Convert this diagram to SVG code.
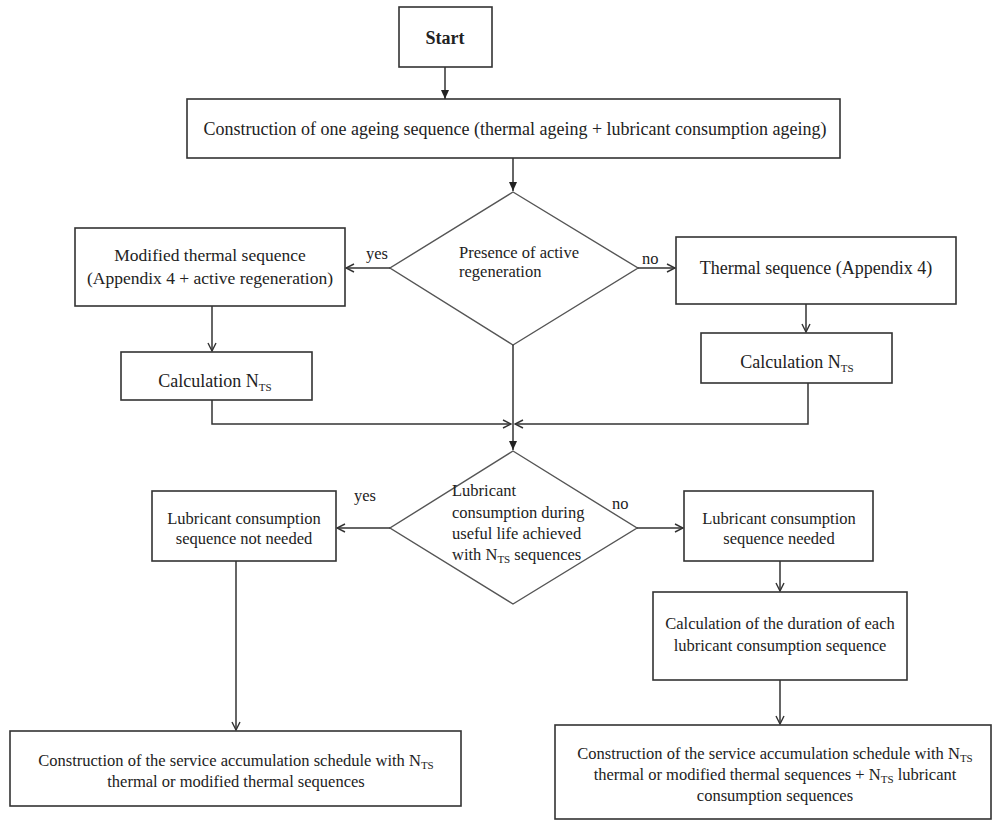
<svg xmlns="http://www.w3.org/2000/svg" width="992" height="821" viewBox="0 0 992 821">
<defs>
<marker id="ah" markerWidth="10" markerHeight="10" refX="9" refY="5" orient="auto" markerUnits="userSpaceOnUse">
<path d="M1,1 L9,5 L1,9" fill="none" stroke="#333" stroke-width="1.4"/>
</marker>
<marker id="af" markerWidth="10" markerHeight="10" refX="9" refY="5" orient="auto" markerUnits="userSpaceOnUse">
<path d="M0,1 L9,5 L0,9 Z" fill="#222"/>
</marker>
</defs>
<style>
.box{fill:#fff;stroke:#333;stroke-width:1.6}
.dia{fill:#fff;stroke:#555;stroke-width:1.4}
.t{font-family:"Liberation Serif","Times New Roman",serif;font-size:16.5px;fill:#222}
.l{font-size:18px}
.m{font-size:17.5px}
.c{text-anchor:middle}
.b{font-weight:bold}
.ln{fill:none;stroke:#333;stroke-width:1.5}
.sub{font-size:11px}
</style>
<rect width="992" height="821" fill="#fff"/>

<g id="start">
<rect class="box" x="399" y="7" width="93" height="60"/>
<text class="t l c b" x="445" y="44">Start</text>
</g>
<g id="construct-one">
<rect class="box" x="187" y="99" width="653" height="59"/>
<text class="t l c" x="515" y="135">Construction of one ageing sequence (thermal ageing + lubricant consumption ageing)</text>
</g>
<g id="dec1">
<polygon class="dia" points="513,192 638,268 513,345 390,268"/>
<text class="t" x="459" y="258">Presence  of active</text>
<text class="t" x="459" y="277">regeneration</text>
</g>
<g id="modified-thermal">
<rect class="box" x="75" y="228" width="270" height="78"/>
<text class="t m c" x="210" y="261">Modified thermal sequence</text>
<text class="t m c" x="210" y="284">(Appendix 4 + active regeneration)</text>
</g>
<g id="thermal">
<rect class="box" x="676" y="237" width="280" height="67"/>
<text class="t l c" x="816" y="274">Thermal sequence (Appendix 4)</text>
</g>
<g id="calc-left">
<rect class="box" x="121" y="352" width="191" height="48"/>
<text class="t l c" x="215" y="387">Calculation N<tspan class="sub" dy="4">TS</tspan></text>
</g>
<g id="calc-right">
<rect class="box" x="701" y="333" width="191" height="50"/>
<text class="t l c" x="797" y="368">Calculation N<tspan class="sub" dy="4">TS</tspan></text>
</g>
<g id="dec2">
<polygon class="dia" points="513,451 637,528 513,604 390,528"/>
<text class="t" x="452" y="496">Lubricant</text>
<text class="t" x="452" y="518">consumption during</text>
<text class="t" x="452" y="539">useful  life achieved</text>
<text class="t" x="452" y="560">with N<tspan class="sub" dy="3">TS</tspan><tspan dy="-3"> sequences</tspan></text>
</g>
<g id="not-needed">
<rect class="box" x="152" y="491" width="184" height="70"/>
<text class="t c" x="244" y="524">Lubricant consumption</text>
<text class="t c" x="244" y="544">sequence not needed</text>
</g>
<g id="needed">
<rect class="box" x="684" y="491" width="189" height="70"/>
<text class="t c" x="779" y="524">Lubricant consumption</text>
<text class="t c" x="779" y="544">sequence needed</text>
</g>
<g id="calc-duration">
<rect class="box" x="653" y="592" width="254" height="88"/>
<text class="t c" x="780" y="629">Calculation of the duration of each</text>
<text class="t c" x="780" y="651">lubricant consumption sequence</text>
</g>
<g id="schedule-left">
<rect class="box" x="10" y="731" width="451" height="75"/>
<text class="t c" x="236" y="766">Construction of the service accumulation schedule with N<tspan class="sub" dy="3">TS</tspan></text>
<text class="t c" x="236" y="787">thermal or modified thermal sequences</text>
</g>
<g id="schedule-right">
<rect class="box" x="555" y="725" width="436" height="94"/>
<text class="t c" x="775" y="759">Construction of the service accumulation schedule with N<tspan class="sub" dy="3">TS</tspan></text>
<text class="t c" x="775" y="780">thermal or modified thermal sequences + N<tspan class="sub" dy="3">TS</tspan><tspan dy="-3"> lubricant</tspan></text>
<text class="t c" x="775" y="801">consumption sequences</text>
</g>

<g id="connectors">
<line class="ln" x1="445" y1="67" x2="445" y2="99" marker-end="url(#af)"/>
<line class="ln" x1="513" y1="158" x2="513" y2="191" marker-end="url(#af)"/>
<line class="ln" x1="390" y1="268" x2="346" y2="268" marker-end="url(#ah)"/>
<line class="ln" x1="638" y1="268" x2="675" y2="268" marker-end="url(#ah)"/>
<line class="ln" x1="212" y1="306" x2="212" y2="351" marker-end="url(#ah)"/>
<line class="ln" x1="806" y1="304" x2="806" y2="332" marker-end="url(#ah)"/>
<polyline class="ln" points="212,400 212,424 511,424" marker-end="url(#ah)"/>
<polyline class="ln" points="808,383 808,424 515,424" marker-end="url(#ah)"/>
<line class="ln" x1="513" y1="345" x2="513" y2="450" marker-end="url(#af)"/>
<line class="ln" x1="390" y1="528" x2="337" y2="528" marker-end="url(#ah)"/>
<line class="ln" x1="637" y1="528" x2="683" y2="528" marker-end="url(#ah)"/>
<line class="ln" x1="780" y1="561" x2="780" y2="591" marker-end="url(#ah)"/>
<line class="ln" x1="780" y1="680" x2="780" y2="724" marker-end="url(#ah)"/>
<line class="ln" x1="236" y1="561" x2="236" y2="730" marker-end="url(#ah)"/>
<text class="t" x="366" y="259">yes</text>
<text class="t" x="642" y="264">no</text>
<text class="t" x="354" y="501">yes</text>
<text class="t" x="612" y="509">no</text>
</g>
</svg>
